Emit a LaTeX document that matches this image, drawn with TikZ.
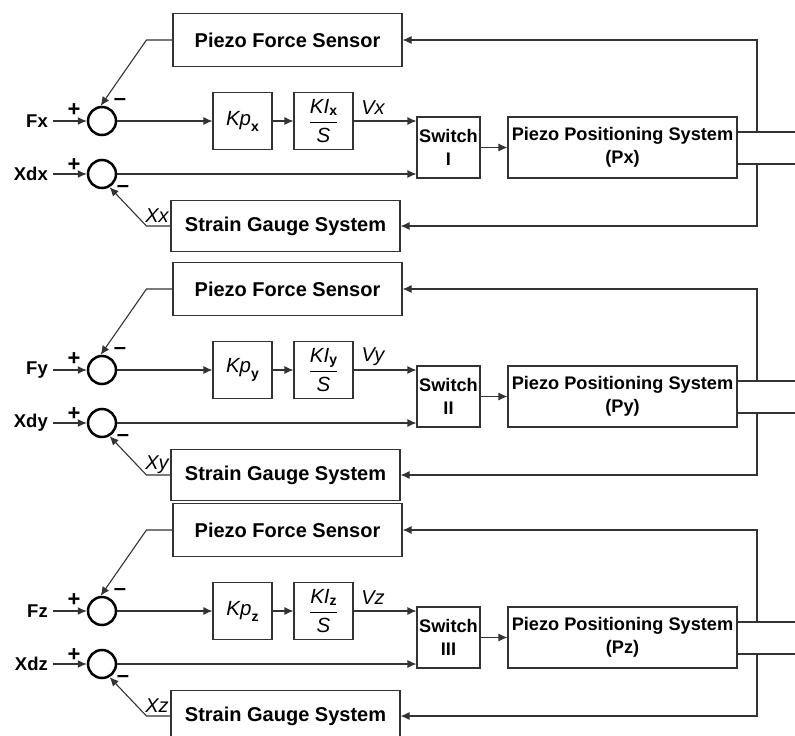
\documentclass[tikz,border=0pt]{standalone}
\usepackage{fontspec}
\setmainfont{Liberation Sans}
\usetikzlibrary{arrows.meta,calc}
\definecolor{trait}{HTML}{333333}
\newcommand{\idx}[2][-6pt]{\raisebox{#1}{\fontsize{14}{14}\selectfont\bfseries\upshape #2}}
\tikzset{
  bloc/.style={rectangle, draw=trait, line width=1.1pt, fill=white, align=center,
               font=\fontsize{18.2}{23}\selectfont\bfseries, inner sep=1pt},
  capteur/.style={bloc, minimum width=229pt, font=\fontsize{20}{23}\selectfont\bfseries},
  gain/.style={bloc, minimum width=59pt, minimum height=57pt,
               font=\fontsize{20.5}{22}\selectfont\itshape},
  somme/.style={circle, draw=black, line width=2.5pt, minimum size=28pt, inner sep=0pt},
  arr/.style={-{Latex[length=9pt,width=8pt]}, line width=1.1pt, draw=trait},
  lien/.style={line width=1.1pt, draw=trait},
  lab/.style={font=\fontsize{18.5}{22}\selectfont\bfseries, inner sep=0pt},
  signe/.style={font=\fontsize{22}{22}\selectfont\bfseries, inner sep=0pt},
  labi/.style={font=\fontsize{20}{22}\selectfont\itshape, inner sep=0pt},
}

\begin{document}
\begin{tikzpicture}[x=1pt, y=-1pt]
  \useasboundingbox (0,0) rectangle (795,736);
  \foreach \ax/\yo/\nsw in {x/0/I, y/249/II, z/490/III} {
    \begin{scope}[shift={(0,\yo)}]
      % capteurs et procede
      \node[capteur, minimum height=53pt] (pfs\ax) at (287.5,40) {Piezo Force Sensor};
      \node[capteur, minimum height=51pt] (sgs\ax) at (285.5,226) {Strain Gauge System};
      \node[bloc, minimum width=63pt, minimum height=61pt] (sw\ax) at (448.5,147.5) {Switch\\\nsw};
      \node[bloc, minimum width=229pt, minimum height=61pt] (pps\ax) at (622.5,147.5) {Piezo Positioning System\\(P\ax)};
      % comparateurs et correcteur
      \node[somme] (s1\ax) at (102,121) {};
      \node[somme] (s2\ax) at (102,174) {};
      \node[gain] (kp\ax) at (242.5,121) {Kp\idx{\ax}};
      \node[gain] (ki\ax) at (323.5,121) {$\displaystyle\frac{\mbox{KI\idx[-2pt]{\ax}}}{\mbox{S}}$};
      % textes
      \node[lab, anchor=east] (f\ax) at (48,121) {F\ax};
      \node[lab, anchor=east] (xd\ax) at (48,174) {Xd\ax};
      \node[signe] (p1\ax) at (74,110) {+};
      \node[signe] (m1\ax) at (120,102) {--};
      \node[signe] (p2\ax) at (74,165) {+};
      \node[signe] (m2\ax) at (123,189) {--};
      \node[labi] (v\ax) at (373,108) {V\ax};
      \node[labi] (xx\ax) at (157,216) {X\ax};
      \coordinate (c1\ax) at (757,132);
      \coordinate (c2\ax) at (757,164);
      \coordinate (o1\ax) at (795,132);
      \coordinate (o2\ax) at (795,164);
      % liaisons
      \draw[arr, shorten <=5pt] (f\ax) -- (s1\ax);
      \draw[arr, shorten <=5pt] (xd\ax) -- (s2\ax);
      \draw[arr] (s1\ax) -- (kp\ax);
      \draw[arr] (kp\ax) -- (ki\ax);
      \draw[arr] (ki\ax.east) -- (ki\ax.east -| sw\ax.west);
      \draw[arr] (s2\ax) -- (s2\ax -| sw\ax.west);
      \draw[arr] (sw\ax) -- (pps\ax);
      \draw[lien] (pps\ax.east |- o1\ax) -- (o1\ax);
      \draw[lien] (pps\ax.east |- o2\ax) -- (o2\ax);
      \draw[arr] (c1\ax) |- (pfs\ax.east);
      \draw[arr] (c2\ax) |- (sgs\ax.east);
      \draw[arr] (pfs\ax.west) -- ++(-26pt,0) -- (s1\ax.95);
      \draw[arr] (sgs\ax.west) -- ++(-24pt,0) -- (s2\ax.-60);
    \end{scope}
  }
\end{tikzpicture}
\end{document}
